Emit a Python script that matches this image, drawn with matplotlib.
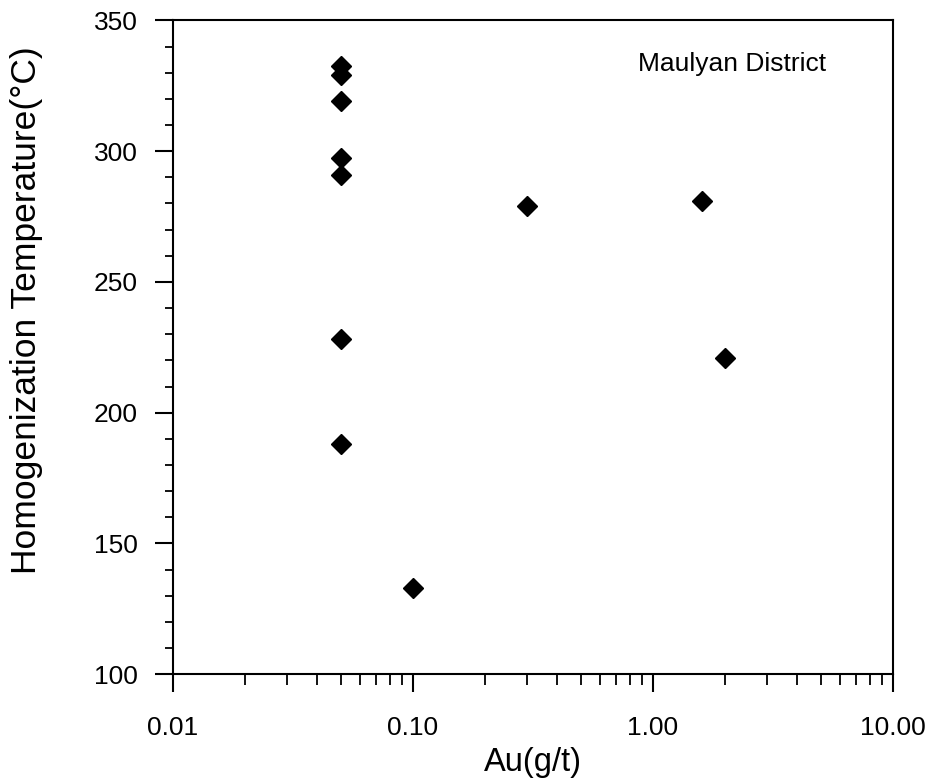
import matplotlib
matplotlib.use("Agg")
import matplotlib.pyplot as plt
from matplotlib.ticker import FixedLocator, MultipleLocator, LogLocator, NullFormatter

plt.rcParams['font.family'] = ['Liberation Sans', 'DejaVu Sans']

# Au grade (g/t) vs homogenization temperature (deg C)
au = [0.05, 0.05, 0.05, 0.05, 0.05, 0.05, 0.05, 0.10, 0.30, 1.60, 2.00]
temp = [332.5, 329, 319, 297.5, 291, 228, 188, 133, 279, 281, 221]

xticks = [0.01, 0.1, 1, 10]
xlabels = ['0.01', '0.10', '1.00', '10.00']
yticks = [100, 150, 200, 250, 300, 350]

fig = plt.figure(figsize=(9.34, 7.84), dpi=100)
ax = fig.add_axes([0.185, 0.140, 0.771, 0.834])

ax.plot(au, temp, linestyle='none', marker='D', markersize=9.7,
        color='black', markeredgecolor='black')

ax.set_xscale('log')
ax.set_xlim(0.01, 10)
ax.set_ylim(100, 350)

ax.xaxis.set_major_locator(FixedLocator(xticks))
ax.set_xticklabels(xlabels)
ax.xaxis.set_minor_locator(LogLocator(base=10, subs=range(2, 10)))
ax.xaxis.set_minor_formatter(NullFormatter())
ax.yaxis.set_major_locator(FixedLocator(yticks))
ax.yaxis.set_minor_locator(MultipleLocator(10))

for s in ax.spines.values():
    s.set_linewidth(1.5)

ax.tick_params(axis='both', which='major', direction='out', length=13,
               width=1.5, labelsize=19)
ax.tick_params(axis='both', which='minor', direction='out', length=6,
               width=1.3)
ax.tick_params(axis='x', which='major', pad=17)
ax.tick_params(axis='x', which='minor', length=8)
ax.tick_params(axis='y', which='major', pad=12)

ax.set_xlabel('Au(g/t)', fontsize=23.5)
ax.set_ylabel('Homogenization Temperature(°C)', fontsize=25.5)
ax.xaxis.set_label_coords(0.5, -0.112)
ax.yaxis.set_label_coords(-0.18, 0.557)

fig.text(638 / 934, 1 - 64 / 784, 'Maulyan District', fontsize=19,
         ha='left', va='center')

fig.savefig('out.png', dpi=100)
